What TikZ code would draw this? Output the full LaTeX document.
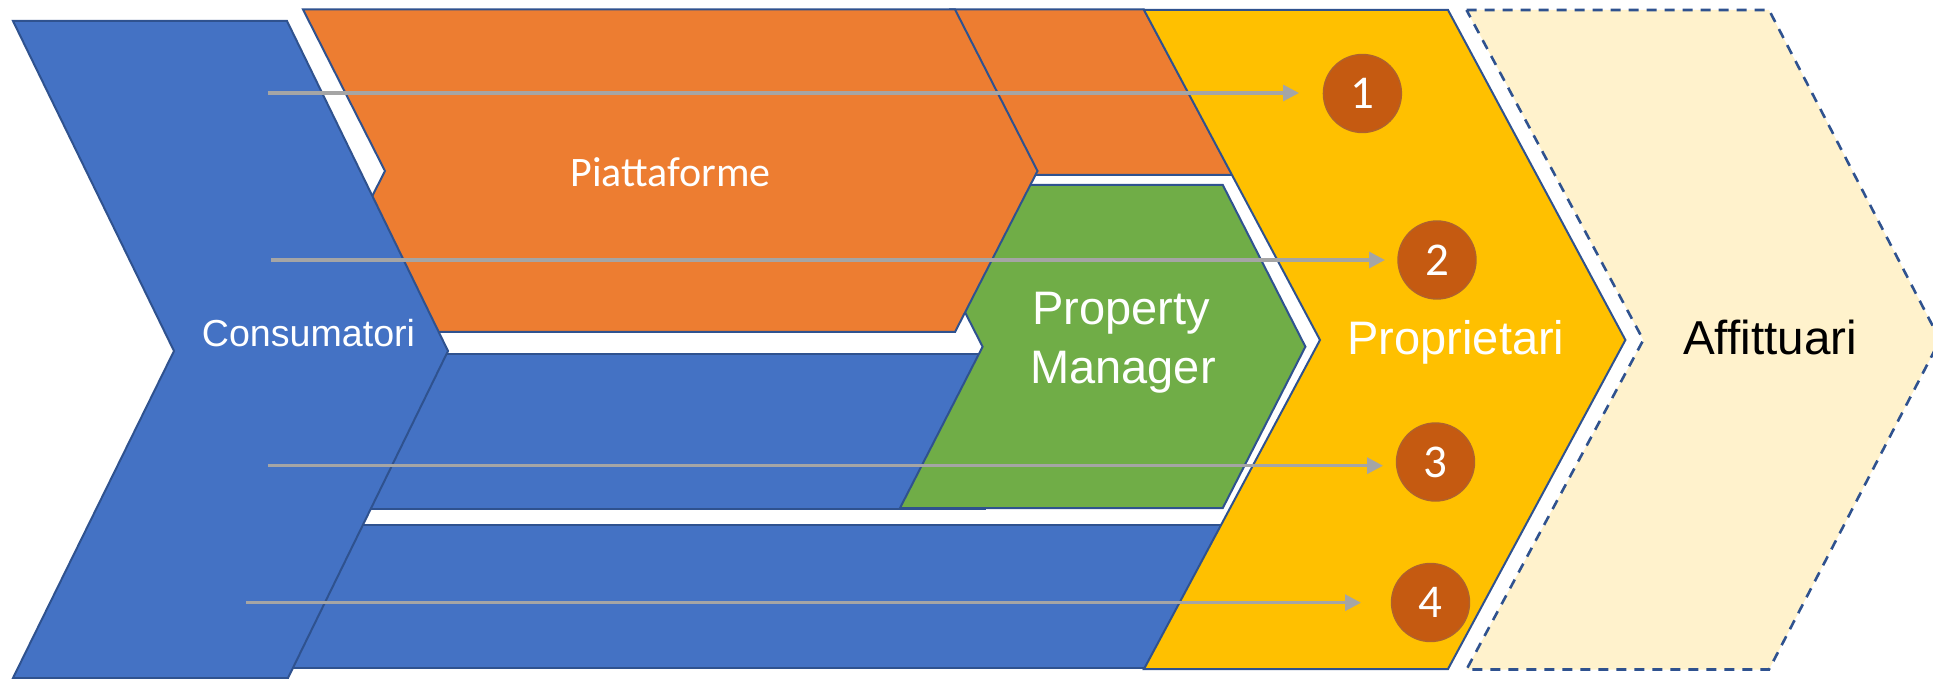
\documentclass[tikz,border=0pt]{standalone}
\usepackage{fontspec}
\setmainfont{Liberation Sans}
\newfontfamily\calib{Carlito}
\usetikzlibrary{arrows.meta}
\definecolor{cblue}{HTML}{4472C4}
\definecolor{corange}{HTML}{ED7D31}
\definecolor{cgreen}{HTML}{70AD47}
\definecolor{cyellow}{HTML}{FFC000}
\definecolor{clight}{HTML}{FFF2CC}
\definecolor{cline}{HTML}{2F528F}
\definecolor{cgray}{HTML}{A5A5A5}
\definecolor{cbrown}{HTML}{C55A11}
\definecolor{cbrownline}{HTML}{B0622C}
\begin{document}
\begin{tikzpicture}[x=0.5pt,y=-0.5pt,
  shp/.style={draw=cline,line width=1pt,line join=miter},
  dshp/.style={draw=cline,line width=1.3pt,dash pattern=on 5pt off 4pt,fill=clight},
  flow/.style={draw=cgray,line width=1.65pt,-{Triangle[length=8pt,width=8pt]}},
  num/.style={circle,fill=cbrown,draw=cbrownline,line width=0.7pt,minimum size=39pt,inner sep=0pt,text=white,font=\calib\fontsize{23.5pt}{26pt}\selectfont},
  lbl/.style={anchor=base,inner sep=0pt,text=white,font=\fontsize{23.5pt}{28pt}\selectfont}
]
\useasboundingbox (0,0) rectangle (1933,679);
% Affittuari (dashed)
\path[dshp] (1466.5,10) -- (1769,10) -- (1940,340) -- (1769,669.5) -- (1466.5,669.5) -- (1643.3,340) -- cycle;
% blue bands
\path[shp,fill=cblue] (300,354) -- (985,354) -- (985,509) -- (300,509) -- cycle;
\path[shp,fill=cblue] (270,525) -- (1240,525) -- (1240,668) -- (270,668) -- cycle;
% orange extension
\path[shp,fill=corange] (950,9.5) -- (1144,9.5) -- (1232.6,175) -- (950,175) -- cycle;
% green Property Manager
\path[shp,fill=cgreen] (900,185) -- (1222.8,185) -- (1305.4,346.7) -- (1222.8,508) -- (900,508) -- (982.6,346.7) -- cycle;
% orange main
\path[shp,fill=corange] (303,9.5) -- (955,9.5) -- (1037.5,171) -- (955,332) -- (303,332) -- (385,171) -- cycle;
% yellow Proprietari
\path[shp,fill=cyellow] (1144,10) -- (1448,10) -- (1625.4,340) -- (1448,669) -- (1144,669) -- (1320,340) -- cycle;
% Consumatori
\path[shp,fill=cblue] (13,21) -- (287,21) -- (448,351) -- (288,678) -- (13,678) -- (174,351) -- cycle;

% labels
\node[lbl,font=\fontsize{18.8pt}{22pt}\selectfont] (cons) at (308.5,346.7) {Consumatori};
\node[lbl,font=\calib\fontsize{21pt}{25pt}\selectfont] (piat) at (670.5,186.7) {Piattaforme};
\node[lbl] (pm1) at (1121,325) {Property};
\node[lbl] (pm2) at (1123,383) {Manager};
\node[lbl] (prop) at (1456,355) {Proprietari};
\node[lbl,text=black,font=\fontsize{23.8pt}{28pt}\selectfont] (affi) at (1770,355) {Affittuari};

% circles
\node[num] (n1) at (1362.4,93.5) {1};
\node[num] (n2) at (1437,260) {2};
\node[num] (n3) at (1435.5,462) {3};
\node[num] (n4) at (1430.5,602.5) {4};

% arrows
\coordinate (s1) at (267.5,93);
\coordinate (e1) at (1299,93);
\coordinate (s2) at (271,260);
\coordinate (e2) at (1385,260);
\coordinate (s3) at (268,465.7);
\coordinate (e3) at (1383,465.7);
\coordinate (s4) at (246,602.7);
\coordinate (e4) at (1361,602.7);
\draw[flow] (s1) -- (e1);
\draw[flow] (s2) -- (e2);
\draw[flow] (s3) -- (e3);
\draw[flow] (s4) -- (e4);
\end{tikzpicture}
\end{document}
